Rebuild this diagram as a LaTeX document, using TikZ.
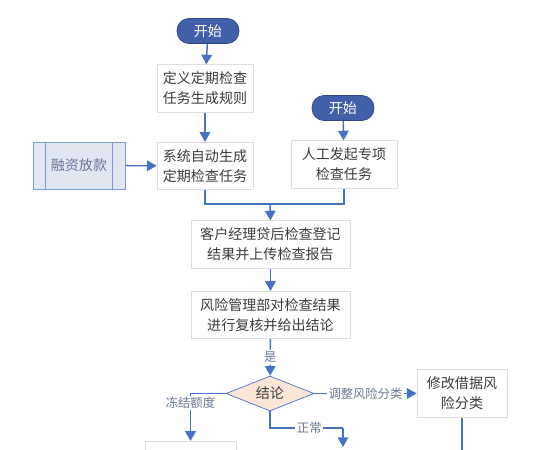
\documentclass[tikz,border=0pt]{standalone}
\usepackage{fontspec}
\setmainfont{Noto Sans CJK SC}
\usepackage{xcolor}
\usetikzlibrary{shapes.geometric,arrows.meta,positioning,calc}
\definecolor{flowblue}{RGB}{68,114,196}
\definecolor{ovalblue}{RGB}{66,96,170}
\definecolor{ovaledge}{RGB}{45,70,135}
\definecolor{peach}{RGB}{251,229,214}
\definecolor{lblgray}{RGB}{105,120,150}
\definecolor{boxline}{RGB}{222,222,222}
\definecolor{sidefill}{RGB}{223,231,243}
\definecolor{txtgray}{RGB}{60,60,60}

\begin{document}
\begin{tikzpicture}[x=0.02cm, y=-0.02cm,
    box/.style={rectangle, draw=boxline, fill=white, minimum width=#1, minimum height=0.95cm, align=center, inner sep=0pt, text=txtgray, font=\fontsize{8}{11.4}\selectfont},
    terminal/.style={rectangle, rounded corners=0.24cm, draw=ovaledge, fill=ovalblue, minimum width=1.24cm, minimum height=0.5cm, text=white, font=\fontsize{8}{9}\selectfont},
    decision/.style={diamond, draw=flowblue, fill=peach, aspect=2.5, minimum width=1.76cm, minimum height=0.7cm, inner sep=0pt, text=txtgray, font=\fontsize{8}{9}\selectfont},
    lbl/.style={fill=white, inner sep=1pt, text=lblgray, font=\fontsize{7}{8}\selectfont},
    flow/.style={draw=flowblue, line width=0.8pt},
    arr/.style={flow, -{Triangle[length=5.5pt,width=6pt]}},
]
\useasboundingbox (0,0) rectangle (539,450);
\clip (0,0) rectangle (539,450);

\node[terminal] (start1) at (208,31) {开始};
\node[box=1.92cm] (define) at (205,88.5) {定义定期检查\\任务生成规则};
\node[box=1.92cm] (auto) at (205,166) {系统自动生成\\定期检查任务};
\node[rectangle, draw=flowblue!70, fill=sidefill, minimum width=1.84cm, minimum height=0.94cm, text=lblgray, font=\fontsize{8}{9}\selectfont] (loan) at (79,165.5) {融资放款};
\draw[flowblue!70] ($(loan.north west)+(13,0)$) -- ($(loan.south west)+(13,0)$);
\draw[flowblue!70] ($(loan.north east)+(-13,0)$) -- ($(loan.south east)+(-13,0)$);

\node[terminal] (start2) at (343,108) {开始};
\node[box=2.12cm] (manual) at (344,164.5) {人工发起专项\\检查任务};

\node[box=3.18cm] (check) at (270.5,244.5) {客户经理贷后检查登记\\结果并上传检查报告};
\node[box=3.18cm] (review) at (270.5,315) {风险管理部对检查结果\\进行复核并给出结论};
\node[decision] (concl) at (270,393.5) {结论};
\node[box=1.8cm] (modify) at (462,393.5) {修改借据风\\险分类};
\node[box=1.82cm] (freeze) at (190.5,465) {};

\coordinate (join) at (270,204);
\coordinate (normturn) at (343,428);
\coordinate (normend) at (343,447);
\coordinate (modend) at (462,455);

\draw[arr] (start1) -- (define);
\draw[arr] (define) -- (auto);
\draw[arr] (loan) -- (auto);
\draw[arr] (start2) -- (manual);
\draw[flow] (auto.south) |- (join);
\draw[flow] (manual.south) |- (join);
\draw[arr] (join) -- (check.north);
\draw[arr] (check) -- (review);
\draw[arr] (review) -- node[lbl] {是} (concl);
\draw[arr] (concl.east) -- node[lbl] {调整风险分类} (modify.west);
\draw[arr] (concl.west) -| node[lbl, pos=0.6] {冻结额度} (freeze.north);
\draw[flow] (concl.south) |- node[lbl, pos=0.77] {正常} (normturn);
\draw[arr] (normturn) -- (normend);
\draw[flow] (modify.south) -- (modend);

\end{tikzpicture}
\end{document}
